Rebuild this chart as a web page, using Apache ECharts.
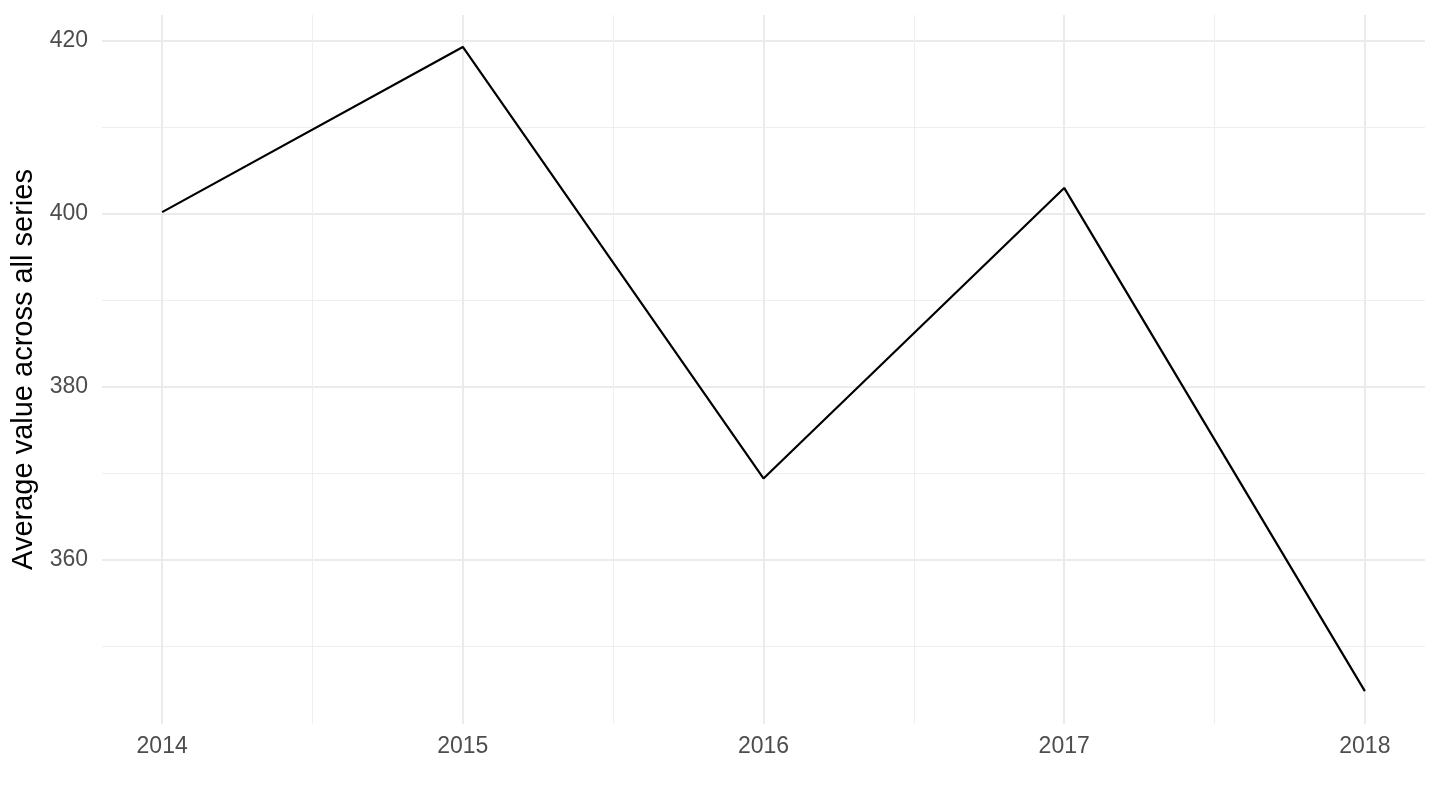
<!DOCTYPE html>
<html>
<head>
<meta charset="utf-8">
<script src="https://cdn.jsdelivr.net/npm/echarts@6/dist/echarts.min.js"></script>
<style>
html,body{margin:0;padding:0;background:#fff;}
#chart{width:1440px;height:810px;}
</style>
</head>
<body>
<div id="chart"></div>
<script>
const years = [2014, 2015, 2016, 2017, 2018];
const values = [400.2, 419.3, 369.4, 403.0, 344.8];
const yMajorTicks = [360, 380, 400, 420];
const yMinorTicks = [350, 370, 390, 410];
const xMinorTicks = [2014.5, 2015.5, 2016.5, 2017.5];
const yTitle = 'Average value across all series';

const FONT = 'Liberation Sans, Arial, Helvetica, sans-serif';
const xMin = 2013.8, xMax = 2018.2, yMin = 341.0, yMax = 423.0;

const chart = echarts.init(document.getElementById('chart'));
chart.setOption({
  animation: false,
  backgroundColor: '#ffffff',
  grid: { left: 102, right: 15, top: 15, bottom: 86, containLabel: false },
  xAxis: [
    {
      type: 'value', min: xMin, max: xMax,
      axisLine: { show: false },
      axisTick: { show: false, customValues: years },
      axisLabel: {
        customValues: years, color: '#4D4D4D', fontSize: 23, fontFamily: FONT,
        margin: 11, formatter: v => String(Math.round(v))
      },
      splitLine: { show: true, lineStyle: { color: '#EBEBEB', width: 2 } }
    },
    {
      type: 'value', min: xMin, max: xMax, position: 'bottom',
      axisLine: { show: false },
      axisTick: { show: false, customValues: xMinorTicks },
      axisLabel: { show: false, customValues: xMinorTicks },
      splitLine: { show: true, lineStyle: { color: '#EEEEEE', width: 1 } }
    }
  ],
  yAxis: [
    {
      type: 'value', min: yMin, max: yMax,
      name: yTitle, nameLocation: 'middle', nameRotate: 90, nameGap: 62,
      nameTextStyle: { color: '#000000', fontSize: 29, fontFamily: FONT },
      axisLine: { show: false },
      axisTick: { show: false, customValues: yMajorTicks },
      axisLabel: {
        customValues: yMajorTicks, color: '#4D4D4D', fontSize: 23, fontFamily: FONT,
        margin: 14, formatter: v => String(Math.round(v))
      },
      splitLine: { show: true, lineStyle: { color: '#EBEBEB', width: 2 } }
    },
    {
      type: 'value', min: yMin, max: yMax, position: 'left',
      axisLine: { show: false },
      axisTick: { show: false, customValues: yMinorTicks },
      axisLabel: { show: false, customValues: yMinorTicks },
      splitLine: { show: true, lineStyle: { color: '#EEEEEE', width: 1 } }
    }
  ],
  series: [
    {
      type: 'line',
      xAxisIndex: 0, yAxisIndex: 0,
      data: years.map((y, i) => [y, values[i]]),
      symbol: 'none',
      lineStyle: { color: '#000000', width: 2.2 },
      z: 5
    }
  ]
});
</script>
</body>
</html>
